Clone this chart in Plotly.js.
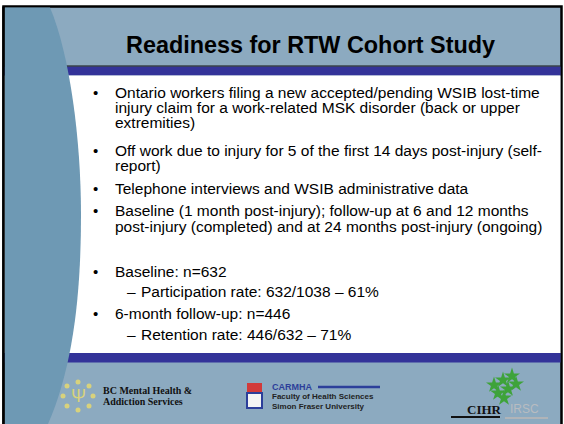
<!DOCTYPE html>
<html>
<head>
<meta charset="utf-8">
<script src="https://cdn.plot.ly/plotly-3.0.1.min.js"></script>
<style>
html, body { margin: 0; padding: 0; background: #fff; }
#graph { width: 564px; height: 424px; }
</style>
</head>
<body>
<div id="graph"></div>
<script>
// slide content
var slideTitle = 'Readiness for RTW Cohort Study';

var lineText = [
  'Ontario workers filing a new accepted/pending WSIB lost-time',
  'injury claim for a work-related MSK disorder (back or upper',
  'extremities)',
  'Off work due to injury for 5 of the first 14 days post-injury (self-',
  'report)',
  'Telephone interviews and WSIB administrative data',
  'Baseline (1 month post-injury); follow-up at 6 and 12 months',
  'post-injury (completed) and at 24 months post-injury (ongoing)',
  'Baseline: n=632',
  'Participation rate: 632/1038 \u2013 61%',
  '6-month follow-up: n=446',
  'Retention rate: 446/632 \u2013 71%'
];
// b = bullet, c = continuation line, s = sub-bullet
var lineKind = ['b', 'c', 'c', 'b', 'c', 'b', 'b', 'c', 'b', 's', 'b', 's'];
// baselines in px
var lineY = [97, 112, 127, 155, 170, 193, 215, 231, 276, 296, 318, 339];

var logoBC = ['BC Mental Health &', 'Addiction Services'];
var logoSFU = ['CARMHA', 'Faculty of Health Sciences', 'Simon Fraser University'];
var logoCIHR = ['CIHR', 'IRSC'];

var light = '#8caac0';
var dark = '#6e99b4';
var navy = '#333399';
var font = 'Liberation Sans, Arial, sans-serif';

var shapes = [
  // slide background with black frame
  {type: 'rect', x0: 3.5, x1: 561.5, y0: 6.5, y1: 430, fillcolor: light, line: {color: '#000', width: 2.5}},
  {type: 'rect', x0: 4, x1: 560.5, y0: 66.5, y1: 75.5, fillcolor: navy, line: {width: 0}},
  {type: 'line', x0: 4, x1: 560.5, y0: 66, y1: 66, line: {color: '#111', width: 1}},
  {type: 'rect', x0: 4, x1: 560.5, y0: 75.5, y1: 353, fillcolor: '#fff', line: {width: 0}},
  {type: 'rect', x0: 4, x1: 560.5, y0: 353, y1: 362.5, fillcolor: navy, line: {width: 0}},
  // left curved panel
  {type: 'path', path: 'M 4.5,7.5 L 50,7.5 C 70,55 81,140 81,215 C 81,290 74,365 48,424 L 4.5,424 Z',
   fillcolor: dark, line: {width: 0}},
  {type: 'line', x0: 3.5, x1: 3.5, y0: 6.5, y1: 424, line: {color: '#000', width: 2.5}},
  // CARMHA crest
  {type: 'rect', x0: 247, x1: 262, y0: 383, y1: 393, fillcolor: '#d23a3a', line: {width: 0}},
  {type: 'rect', x0: 247, x1: 262, y0: 393, y1: 408, fillcolor: '#f4f4f4', line: {color: '#2c3f9a', width: 2}},
  {type: 'line', x0: 318, x1: 380, y0: 387, y1: 387, line: {color: '#2c3f9a', width: 2.5}},
  // CIHR bar
  {type: 'line', x0: 451, x1: 500, y0: 417, y1: 417, line: {color: '#111', width: 2}},
  {type: 'line', x0: 505, x1: 548, y0: 418, y1: 418, line: {color: '#b0b4b8', width: 2}}
];
shapes.forEach(function (s) { s.layer = 'below'; });

var annotations = [{
  x: 310, y: 54, xref: 'x', yref: 'y', xanchor: 'center', yanchor: 'bottom',
  text: slideTitle, showarrow: false,
  font: {family: font, size: 23.4, color: '#000', weight: 'bold'}, yshift: -6
}];

lineText.forEach(function (t, i) {
  var k = lineKind[i];
  var tx = k === 's' ? 139 : 113;
  annotations.push({x: tx, y: lineY[i] - 5, xref: 'x', yref: 'y', xanchor: 'left', yanchor: 'middle',
    text: t, showarrow: false, font: {family: font, size: 15.5, color: '#000'}});
  if (k === 'b') {
    annotations.push({x: 95, y: lineY[i] - 5, xref: 'x', yref: 'y', xanchor: 'center', yanchor: 'middle',
      text: '\u2022', showarrow: false, font: {family: font, size: 15, color: '#000'}});
  }
  if (k === 's') {
    annotations.push({x: 131, y: lineY[i] - 5, xref: 'x', yref: 'y', xanchor: 'center', yanchor: 'middle',
      text: '\u2013', showarrow: false, font: {family: font, size: 15.5, color: '#000'}});
  }
});

// logos, roughly
logoBC.forEach(function (t, i) {
  annotations.push({x: 101, y: 390 + i * 11, xref: 'x', yref: 'y', xanchor: 'left', yanchor: 'middle',
    text: t, showarrow: false, font: {family: 'Liberation Serif, serif', size: 10, color: '#111', weight: 'bold'}});
});
annotations.push({x: 78, y: 396, xref: 'x', yref: 'y', xanchor: 'center', yanchor: 'middle',
  text: '\u03a8', showarrow: false, font: {family: font, size: 18, color: '#d8d27c'}});
logoSFU.forEach(function (t, i) {
  annotations.push({x: 270, y: 387 + i * 9.5, xref: 'x', yref: 'y', xanchor: 'left', yanchor: 'middle',
    text: t, showarrow: false,
    font: {family: font, size: i === 0 ? 9 : 8, color: i === 0 ? '#2c3f9a' : '#222', weight: 'bold'}});
});
annotations.push({x: 484, y: 409, xref: 'x', yref: 'y', xanchor: 'center', yanchor: 'middle',
  text: logoCIHR[0], showarrow: false, font: {family: 'Liberation Serif, serif', size: 13, color: '#111', weight: 'bold'}});
annotations.push({x: 524, y: 409, xref: 'x', yref: 'y', xanchor: 'center', yanchor: 'middle',
  text: logoCIHR[1], showarrow: false, font: {family: font, size: 12, color: '#b8bcc0'}});

// sun rays and leaf as markers
var sunX = [78, 89, 93, 89, 78, 67, 63, 67];
var sunY = [382, 386, 396, 406, 410, 406, 396, 386];
var leafX = [503, 494, 512, 508, 498, 516, 504];
var leafY = [380, 385, 376, 389, 393, 384, 398];

var data = [
  {x: sunX, y: sunY, type: 'scatter', mode: 'markers', hoverinfo: 'skip',
   marker: {color: '#d8d27c', size: 5}},
  {x: leafX, y: leafY, type: 'scatter', mode: 'markers', hoverinfo: 'skip',
   marker: {color: '#3ea33a', size: 12, symbol: 'star', line: {width: 0}}}
];

var layout = {
  width: 564, height: 424,
  margin: {l: 0, r: 0, t: 0, b: 0},
  paper_bgcolor: '#fff', plot_bgcolor: 'rgba(0,0,0,0)',
  showlegend: false,
  xaxis: {range: [0, 564], visible: false, fixedrange: true},
  yaxis: {range: [424, 0], visible: false, fixedrange: true},
  shapes: shapes,
  annotations: annotations
};

Plotly.newPlot('graph', data, layout, {displayModeBar: false, staticPlot: true});
</script>
</body>
</html>
